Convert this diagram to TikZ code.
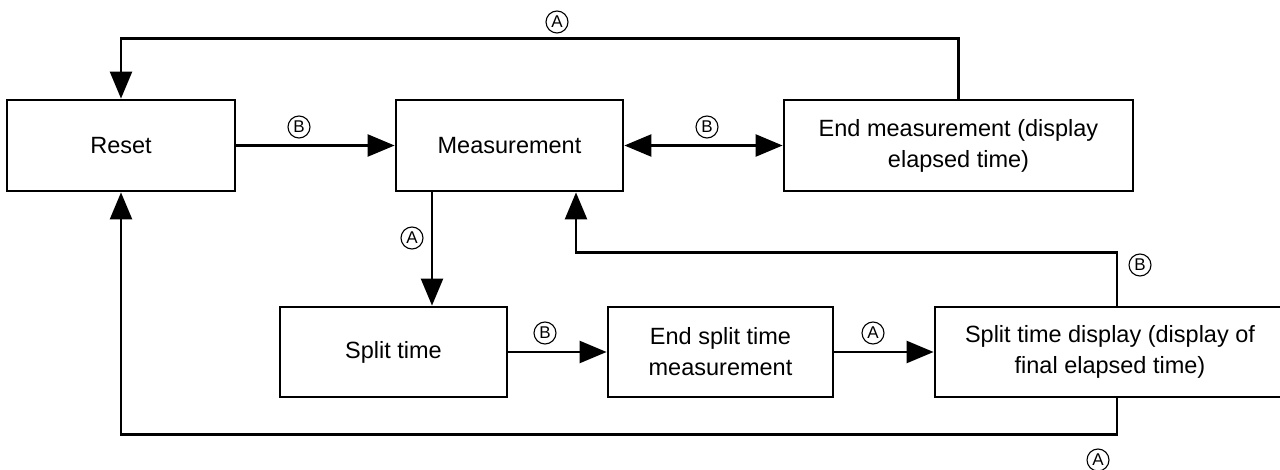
\documentclass[tikz,border=0pt]{standalone}
\usepackage{fontspec}
\setmainfont{Liberation Sans}
\usetikzlibrary{arrows.meta}
\begin{document}
\begin{tikzpicture}[x=1pt,y=-1pt,
  box/.style={draw, line width=2.8pt, rectangle, inner sep=0pt, align=center,
    font=\fontsize{23.5}{31}\selectfont},
  conn/.style={line width=2.4pt},
  arr/.style={conn, -{Triangle[length=27pt,width=22pt]}},
  darr/.style={conn, {Triangle[length=27pt,width=22pt]}-{Triangle[length=27pt,width=22pt]}},
  circ/.style={circle, draw, line width=1.1pt, minimum size=22pt, inner sep=0pt,
    font=\fontsize{17}{17}\selectfont}]
\useasboundingbox (0,0) rectangle (1280,470);

\node[box, minimum width=228pt, minimum height=91pt] (reset) at (121,145.5) {Reset};
\node[box, minimum width=227pt, minimum height=91pt] (meas) at (509.5,145.5) {Measurement};
\node[box, minimum width=349pt, minimum height=91pt] (endm) at (958.5,145.5) {End measurement (display\\elapsed time)};
\node[box, minimum width=227pt, minimum height=90pt] (split) at (393.5,352) {Split time};
\node[box, minimum width=225pt, minimum height=90pt] (ends) at (720.5,352) {End split time\\measurement};
\node[box, minimum width=350pt, minimum height=90pt] (disp) at (1110,352) {Split time display (display of\\final elapsed time)};

% connectors
\draw[arr] (reset.east) -- (meas.west);
\draw[darr] (meas.east) -- (endm.west);
\draw[arr] (endm.north) -- ++(0,-60) coordinate (tl) -| (reset.north);
\draw[arr] (meas.south -| 432,0) -- (split.north -| 432,0);
\draw[arr] (split.east) -- (ends.west);
\draw[arr] (ends.east) -- (disp.west);
\draw[arr] (disp.north -| 1117,0) -- ++(0,-53) coordinate (bl) -| (meas.south -| 576,0);
\draw[arr] (disp.south -| 1117,0) -- ++(0,36) coordinate (al) -| (reset.south);

% labels
\node[circ] (la1) at (557,22) {A};
\node[circ] (lb1) at (299,127) {B};
\node[circ] (lb2) at (707,127) {B};
\node[circ] (la2) at (412,238) {A};
\node[circ] (lb3) at (545,333) {B};
\node[circ] (la3) at (873,333) {A};
\node[circ] (lb4) at (1140,265) {B};
\node[circ] (la4) at (1098,460) {A};
\end{tikzpicture}
\end{document}
